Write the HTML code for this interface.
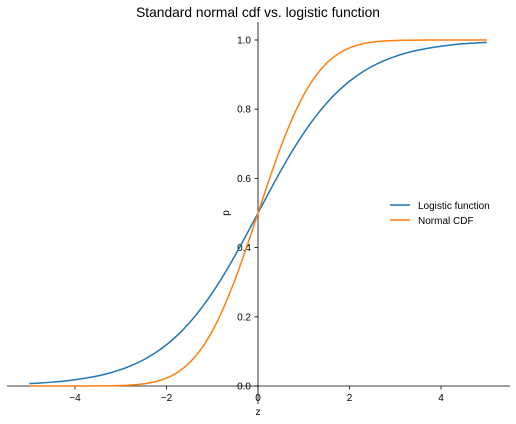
<!DOCTYPE html>
<html><head><meta charset="utf-8"><style>
body{margin:0;background:#fff}
svg{display:block;font-family:"Liberation Sans","DejaVu Sans",sans-serif}
</style></head><body>
<svg id="chart" width="516" height="424">
<text x="258" y="17" text-anchor="middle" font-size="13.8">Standard normal cdf vs. logistic function</text>
<g id="axes"></g>
<g id="series"></g>
<g>
<line x1="390" y1="205" x2="410" y2="205" stroke="#1f77b4" stroke-width="1.5"/>
<text x="418" y="209" font-size="10">Logistic function</text>
<line x1="390" y1="220" x2="410" y2="220" stroke="#ff7f0e" stroke-width="1.5"/>
<text x="418" y="224" font-size="10">Normal CDF</text>
</g>
<text x="258" y="415" text-anchor="middle" font-size="10">z</text>
<text x="0" y="0" transform="translate(229,213) rotate(-90)" text-anchor="middle" font-size="10">p</text>
</svg>
<script>
const zValues=[-5,-4.75,-4.5,-4.25,-4,-3.75,-3.5,-3.25,-3,-2.75,-2.5,-2.25,-2,-1.75,-1.5,-1.25,-1,-0.75,-0.5,-0.25,0,0.25,0.5,0.75,1,1.25,1.5,1.75,2,2.25,2.5,2.75,3,3.25,3.5,3.75,4,4.25,4.5,4.75,5];
const logisticValues=[0.0067,0.0086,0.0110,0.0140,0.0180,0.0230,0.0293,0.0373,0.0474,0.0601,0.0759,0.0953,0.1192,0.1480,0.1824,0.2227,0.2689,0.3208,0.3775,0.4378,0.5,0.5622,0.6225,0.6792,0.7311,0.7773,0.8176,0.8520,0.8808,0.9047,0.9241,0.9399,0.9526,0.9627,0.9707,0.9770,0.9820,0.9860,0.9890,0.9914,0.9933];
const normalValues=[0,0,0,0.00001,0.00003,0.0001,0.0002,0.0006,0.0013,0.0030,0.0062,0.0122,0.0228,0.0401,0.0668,0.1056,0.1587,0.2266,0.3085,0.4013,0.5,0.5987,0.6915,0.7734,0.8413,0.8944,0.9332,0.9599,0.9772,0.9878,0.9938,0.9970,0.9987,0.9994,0.9998,0.9999,0.99997,0.99999,1,1,1];
const xTicks=[-4,-2,0,2,4];
const yTicks=[0,0.2,0.4,0.6,0.8,1.0];
const NS="http://www.w3.org/2000/svg";
const xs=v=>258+v*45.75, ys=v=>386-v*346;
const axes=document.getElementById('axes'), ser=document.getElementById('series');
function mk(tag,attrs,parent){const e=document.createElementNS(NS,tag);for(const k in attrs)e.setAttribute(k,attrs[k]);parent.appendChild(e);return e;}
let e=mk('line',{x1:7,y1:386,x2:510,y2:386,stroke:'#000','stroke-width':0.8},axes);


e=mk('line',{x1:258,y1:22,x2:258,y2:404,stroke:'#000','stroke-width':0.8},axes);


xTicks.forEach(t=>{
 const l=mk('line',{x1:xs(t),y1:386,x2:xs(t),y2:389.5,stroke:'#000','stroke-width':0.8},axes);
 
 
 const tx=mk('text',{x:xs(t),y:401,'text-anchor':'middle','font-size':10},axes);
 tx.textContent=(t<0?'\u2212'+(-t):t);
 
 
});
yTicks.forEach(t=>{
 const l=mk('line',{x1:254.5,y1:ys(t),x2:258,y2:ys(t),stroke:'#000','stroke-width':0.8},axes);
 
 
 const tx=mk('text',{x:251,y:ys(t)+3.5,'text-anchor':'end','font-size':10},axes);
 tx.textContent=t.toFixed(1);
 
 
});
function path(vals,color,name){
 const P=vals.map((v,i)=>[xs(zValues[i]),ys(v)]);
 let d='M'+P[0][0].toFixed(2)+','+P[0][1].toFixed(2);
 for(let i=0;i<P.length-1;i++){
  const p0=P[Math.max(0,i-1)],p1=P[i],p2=P[i+1],p3=P[Math.min(P.length-1,i+2)];
  const c1=[p1[0]+(p2[0]-p0[0])/6,p1[1]+(p2[1]-p0[1])/6];
  const c2=[p2[0]-(p3[0]-p1[0])/6,p2[1]-(p3[1]-p1[1])/6];
  d+=' C'+c1.map(n=>n.toFixed(2)).join(',')+' '+c2.map(n=>n.toFixed(2)).join(',')+' '+p2.map(n=>n.toFixed(2)).join(',');
 }
 const p=mk('path',{d:d,fill:'none',stroke:color,'stroke-width':1.5,'stroke-linejoin':'round'},ser);
 
 
}
path(logisticValues,'#1f77b4','logistic-line');
path(normalValues,'#ff7f0e','normal-cdf-line');
</script>
</body></html>
